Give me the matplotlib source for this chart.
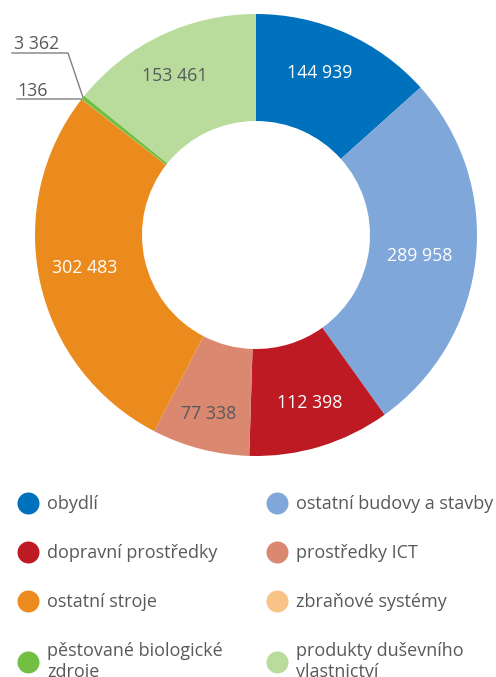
import matplotlib
matplotlib.use("Agg")
import matplotlib.pyplot as plt
import numpy as np

plt.rcParams['font.family'] = ['Open Sans', 'DejaVu Sans']

categories = ["obydlí", "ostatní budovy a stavby", "dopravní prostředky", "prostředky ICT",
              "ostatní stroje", "zbraňové systémy", "pěstované biologické\nzdroje",
              "produkty duševního\nvlastnictví"]
values = [144939, 289958, 112398, 77338, 302483, 136, 3362, 153461]
colors = ["#0071BC", "#7FA7D9", "#BD1A23", "#DA8870", "#EC8B1D", "#F7C387", "#73BF44", "#B9DB9C"]
label_colors = ["white", "white", "white", "#58595B", "white", None, None, "#58595B"]
label_radius = [174, 165, 176, 185, 174, 0, 0, 178]
label_angle_shift = [2.5, -1.0, 0.9, -0.4, -1.5, 0, 0, 1.5]

W, H = 496, 677
fig = plt.figure(figsize=(W / 100, H / 100), dpi=100)
ax = fig.add_axes([0, 0, 1, 1])

cx, cy, R = 256, H - 235, 221
hole = 114
wedges, _ = ax.pie(values, colors=colors, startangle=90, counterclock=False,
                   center=(cx, cy), radius=R,
                   wedgeprops=dict(width=R - hole, linewidth=0))
ax.set_xlim(0, W)
ax.set_ylim(0, H)
ax.set_aspect('equal')
ax.axis('off')

TEXT = "#58595B"
FS = 12.8
LFS = 13.0
for w, v, lc, lr, sh in zip(wedges, values, label_colors, label_radius, label_angle_shift):
    if lc is None:
        continue
    ang = np.deg2rad((w.theta1 + w.theta2) / 2 + sh)
    ax.text(cx + lr * np.cos(ang), cy + lr * np.sin(ang),
            f"{v:,}".replace(",", " "), ha='center', va='center',
            color=lc, fontsize=FS)

# zbraňové systémy (136)
w5 = wedges[5]
a5 = np.deg2rad((w5.theta1 + w5.theta2) / 2)
px5, py5 = cx + R * np.cos(a5), cy + R * np.sin(a5)
ax.plot([17, px5 - 1, px5], [H - 99, H - 99, py5], color="#808080", lw=1)
ax.text(17, H - 96, f"{values[5]:,}".replace(",", " "), ha='left', va='baseline',
        color=TEXT, fontsize=FS)

# pěstované biologické zdroje (3 362)
w6 = wedges[6]
a6 = np.deg2rad((w6.theta1 + w6.theta2) / 2)
px6, py6 = cx + R * np.cos(a6), cy + R * np.sin(a6)
ax.plot([12, 68, px6], [H - 53, H - 53, py6], color="#808080", lw=1)
ax.text(14, H - 49, f"{values[6]:,}".replace(",", " "), ha='left', va='baseline',
        color=TEXT, fontsize=FS)

# legend
col_x = [28, 277]
text_x = [47, 296]
row_y = [503, 552, 601, 662]
for i, (cat, col) in enumerate(zip(categories, colors)):
    r, c = divmod(i, 2)
    y = row_y[r]
    ax.scatter([col_x[c]], [H - y], s=22 ** 2 * 0.72 ** 2, color=col, linewidths=0, clip_on=False)
    lines = cat.split("\n")
    if len(lines) == 1:
        ax.text(text_x[c], H - (y + 6), lines[0], ha='left', va='baseline',
                color=TEXT, fontsize=LFS)
    else:
        for k, ln in enumerate(lines):
            ax.text(text_x[c], H - (656 + 21 * k), ln, ha='left', va='baseline',
                    color=TEXT, fontsize=LFS)

fig.savefig("out.png", dpi=100)
